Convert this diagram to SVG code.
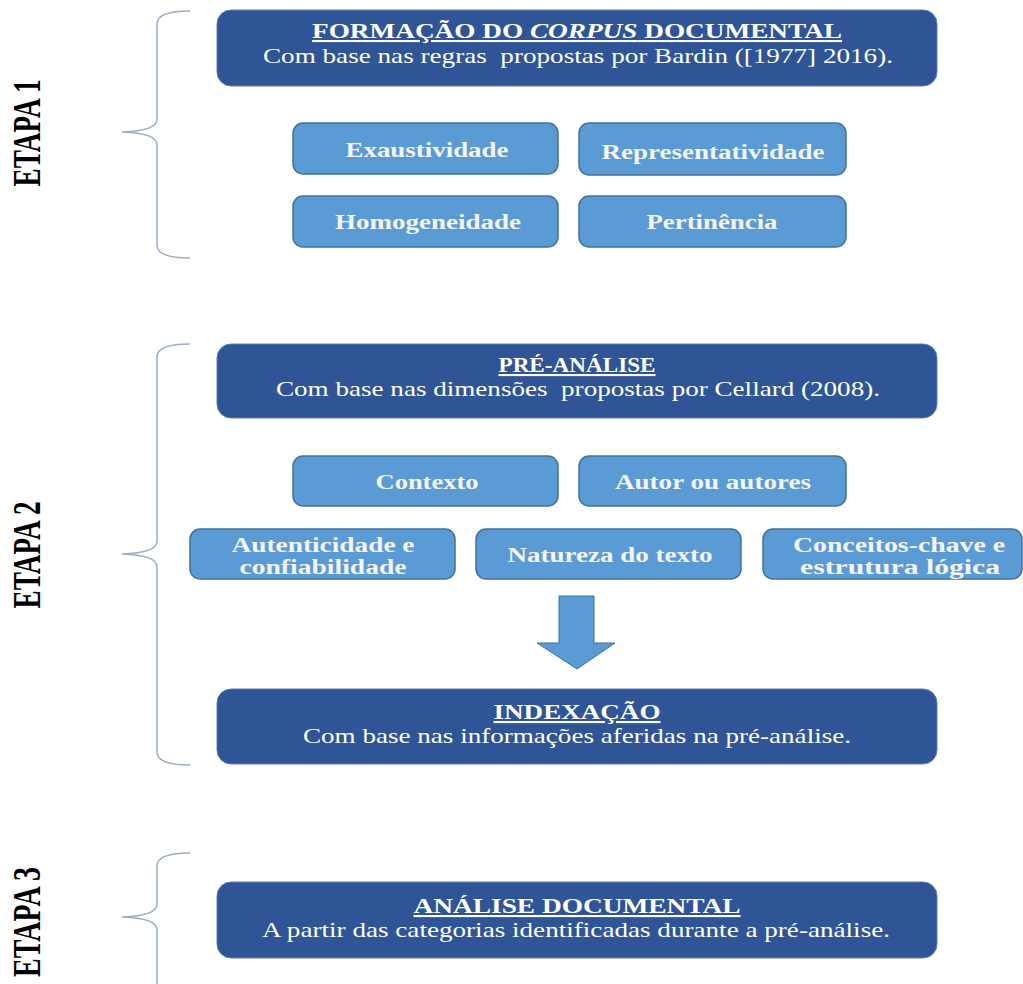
<svg xmlns="http://www.w3.org/2000/svg" width="1023" height="984" viewBox="0 0 1023 984">
<style>
.dark{fill:#2f5597;stroke:#5a7fb5;stroke-width:1}
.light{fill:#5b9bd5;stroke:#41719c;stroke-width:1.5}
.brace{fill:none;stroke:#9aaec4;stroke-width:1.5}
.t{font-family:"Liberation Serif","Times New Roman",serif;fill:#ffffff;text-anchor:middle}
.h{font-weight:bold;font-size:21px;text-decoration:underline}
.s{font-size:21px}
.b{font-weight:bold;font-size:20px;fill:#f4f4f4}
.etapa{font-family:"Liberation Serif","Times New Roman",serif;font-weight:bold;font-size:39px;fill:#000;text-anchor:middle}
</style>
<rect width="1023" height="984" fill="#ffffff"/>

<g id="etapa-labels">
<text class="etapa" transform="translate(40,133) rotate(-90)" textLength="107" lengthAdjust="spacingAndGlyphs">ETAPA 1</text>
<text class="etapa" transform="translate(40,555) rotate(-90)" textLength="107" lengthAdjust="spacingAndGlyphs">ETAPA 2</text>
<text class="etapa" transform="translate(40,922) rotate(-90)" textLength="110" lengthAdjust="spacingAndGlyphs">ETAPA 3</text>
</g>

<g id="connectors">
<path class="brace" d="M190,11 Q157,11 157,24 L157,119 Q157,131 122,132 Q157,133 157,145 L157,245 Q157,258 190,258"/>
<path class="brace" d="M190,344 Q157,344 157,357 L157,541 Q157,553 122,554 Q157,555 157,567 L157,752 Q157,765 190,765"/>
<path class="brace" d="M190,853 Q157,853 157,866 L157,904 Q157,916 122,917 Q157,918 157,930 L157,984"/>
<path id="arrow" d="M559,596 L594,596 L594,643 L615,643 L577,669 L537,643 L559,643 Z" fill="#5b9bd5" stroke="#41719c" stroke-width="1"/>
</g>

<g id="n-formacao">
<rect class="dark" x="217" y="10" width="720" height="76" rx="14"/>
<text class="t h" x="577" y="38" textLength="530" lengthAdjust="spacingAndGlyphs">FORMAÇÃO DO <tspan font-style="italic">CORPUS</tspan> DOCUMENTAL</text>
<text class="t s" x="578" y="63" textLength="630" lengthAdjust="spacingAndGlyphs" xml:space="preserve">Com base nas regras  propostas por Bardin ([1977] 2016).</text>
</g>
<g id="n-exaustividade">
<rect class="light" x="293" y="123" width="265" height="51" rx="10"/>
<text class="t b" x="427" y="157" textLength="163" lengthAdjust="spacingAndGlyphs">Exaustividade</text>
</g>
<g id="n-representatividade">
<rect class="light" x="579" y="123" width="267" height="52" rx="10"/>
<text class="t b" x="713" y="159" textLength="223" lengthAdjust="spacingAndGlyphs">Representatividade</text>
</g>
<g id="n-homogeneidade">
<rect class="light" x="293" y="196" width="265" height="51" rx="10"/>
<text class="t b" x="428" y="229" textLength="186" lengthAdjust="spacingAndGlyphs">Homogeneidade</text>
</g>
<g id="n-pertinencia">
<rect class="light" x="579" y="196" width="267" height="51" rx="10"/>
<text class="t b" x="712" y="229" textLength="131" lengthAdjust="spacingAndGlyphs">Pertinência</text>
</g>

<g id="n-preanalise">
<rect class="dark" x="217" y="344" width="720" height="74" rx="14"/>
<text class="t h" x="577" y="372" textLength="157" lengthAdjust="spacingAndGlyphs">PRÉ-ANÁLISE</text>
<text class="t s" x="578" y="396" textLength="604" lengthAdjust="spacingAndGlyphs" xml:space="preserve">Com base nas dimensões  propostas por Cellard (2008).</text>
</g>
<g id="n-contexto">
<rect class="light" x="293" y="456" width="265" height="50" rx="10"/>
<text class="t b" x="427" y="489" textLength="103" lengthAdjust="spacingAndGlyphs">Contexto</text>
</g>
<g id="n-autor">
<rect class="light" x="579" y="456" width="267" height="50" rx="10"/>
<text class="t b" x="713" y="489" textLength="196" lengthAdjust="spacingAndGlyphs">Autor ou autores</text>
</g>
<g id="n-autenticidade">
<rect class="light" x="190" y="529" width="265" height="50" rx="10"/>
<text class="t b" x="323" y="552" textLength="183" lengthAdjust="spacingAndGlyphs">Autenticidade e</text>
<text class="t b" x="323" y="574" textLength="167" lengthAdjust="spacingAndGlyphs">confiabilidade</text>
</g>
<g id="n-natureza">
<rect class="light" x="476" y="529" width="265" height="50" rx="10"/>
<text class="t b" x="610" y="562" textLength="205" lengthAdjust="spacingAndGlyphs">Natureza do texto</text>
</g>
<g id="n-conceitos">
<rect class="light" x="763" y="529" width="259" height="50" rx="10"/>
<text class="t b" x="899" y="552" textLength="212" lengthAdjust="spacingAndGlyphs">Conceitos-chave e</text>
<text class="t b" x="900" y="574" textLength="200" lengthAdjust="spacingAndGlyphs">estrutura lógica</text>
</g>

<g id="n-indexacao">
<rect class="dark" x="217" y="689" width="720" height="75" rx="14"/>
<text class="t h" x="577" y="719" textLength="167" lengthAdjust="spacingAndGlyphs">INDEXAÇÃO</text>
<text class="t s" x="577" y="743" textLength="548" lengthAdjust="spacingAndGlyphs">Com base nas informações aferidas na pré-análise.</text>
</g>

<g id="n-analise">
<rect class="dark" x="217" y="882" width="720" height="76" rx="14"/>
<text class="t h" x="577" y="913" textLength="327" lengthAdjust="spacingAndGlyphs">ANÁLISE DOCUMENTAL</text>
<text class="t s" x="576" y="937" textLength="628" lengthAdjust="spacingAndGlyphs">A partir das categorias identificadas durante a pré-análise.</text>
</g>
</svg>
